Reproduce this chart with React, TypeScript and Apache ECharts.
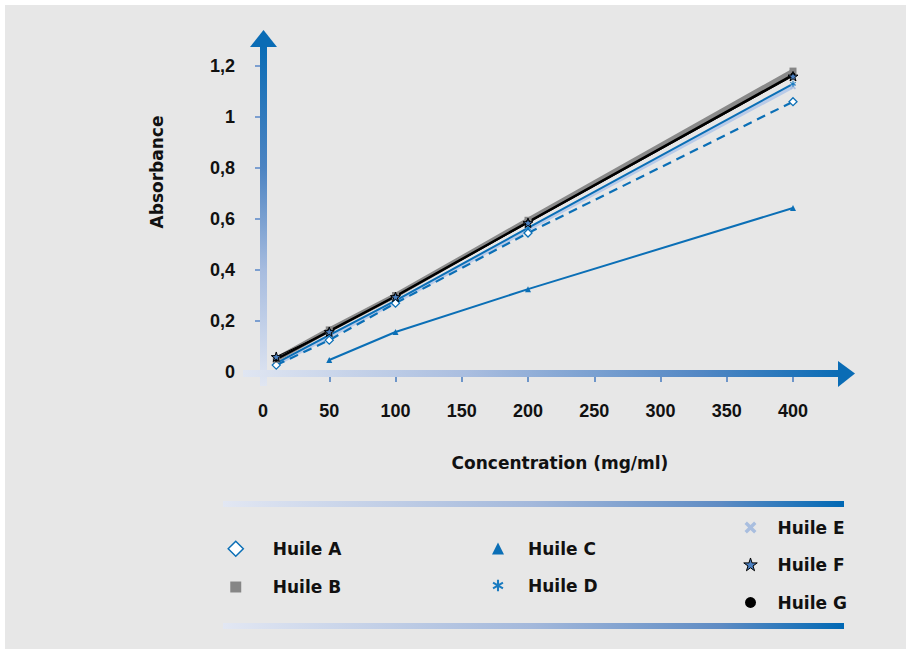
import { useEffect, useRef } from "react";
import * as echarts from "echarts";

// ---- data ----
const concentrations = [10, 50, 100, 200, 400];
const huileA = [0.027, 0.125, 0.27, 0.545, 1.06];
const huileB = [0.05, 0.165, 0.3, 0.595, 1.18];
const huileC = [null, 0.047, 0.157, 0.325, 0.643];
const huileD = [0.035, 0.145, 0.28, 0.565, 1.13];
const huileE = [0.03, 0.14, 0.275, 0.56, 1.12];
const huileF = [0.06, 0.158, 0.295, 0.585, 1.16];
const huileG = [0.05, 0.16, 0.297, 0.588, 1.165];
const seriesNames = ["Huile A", "Huile B", "Huile C", "Huile D", "Huile E", "Huile F", "Huile G"];
const xTitle = "Concentration (mg/ml)";
const yTitle = "Absorbance";

// ---- shapes (10x10 box) ----
const DIAMOND = "M5,0 L10,5 L5,10 L0,5 Z";
const SQUARE = "M0,0 L10,0 L10,10 L0,10 Z";
const TRIANGLE = "M5,0 L10,10 L0,10 Z";
const ASTER =
  "M4.1,0 L5.9,0 L5.9,10 L4.1,10 Z " +
  "M9.78,3.279 L1.12,8.279 L0.22,6.721 L8.88,1.721 Z " +
  "M8.88,8.279 L0.22,3.279 L1.12,1.721 L9.78,6.721 Z";
const CROSS = "M0,2 L2,0 L5,3 L8,0 L10,2 L7,5 L10,8 L8,10 L5,7 L2,10 L0,8 L3,5 Z";
const STAR =
  "M5,0 L6.1,3.5 L9.8,3.5 L6.8,5.7 L7.9,9.1 L5,7 L2.1,9.1 L3.2,5.7 L0.2,3.5 L3.9,3.5 Z";
const CIRCLE = "M0,5 A5,5 0 1 1 10,5 A5,5 0 1 1 0,5 Z";

const sym = (d: string) => "path://" + d;
const pad = (d: string, a: number) => `path://M${-a},${-a} ${d} M${10 + a},${10 + a}`;

const BLUE = "#0b6fb6";
const TEXT = "#111111";
const TITLE_FONT = '"DejaVu Sans", "Liberation Sans", sans-serif';
const TICK_FONT = '"Liberation Sans Narrow", "Liberation Sans", Arial, sans-serif';

const pairs = (vals: (number | null)[]) =>
  concentrations
    .map((x, i) => [x, vals[i]] as [number, number | null])
    .filter((p) => p[1] !== null);

const barGradient = () =>
  new echarts.graphic.LinearGradient(0, 0, 1, 0, [
    { offset: 0, color: "#e2e7f3" },
    { offset: 0.5, color: "#a3b8db" },
    { offset: 0.8, color: "#5f8cc4" },
    { offset: 1, color: "#0068b4" },
  ]);

export default function App() {
  const ref = useRef<HTMLDivElement>(null);

  useEffect(() => {
    if (!ref.current) return;
    const chart = echarts.init(ref.current, null, { renderer: "svg" });

    const legendText = (padLeft: number) => ({
      fontFamily: TITLE_FONT,
      fontWeight: "bold" as const,
      fontSize: 17,
      color: TEXT,
      lineHeight: 16,
      padding: [0, 0, 0, padLeft],
    });

    const option: any = {
      animation: false,
      backgroundColor: "transparent",
      grid: {
        left: 263,
        top: 66,
        width: 530,
        height: 306,
        containLabel: false,
        outerBoundsMode: "none",
      },
      xAxis: {
        type: "value",
        min: 0,
        max: 400,
        interval: 50,
        axisLine: { show: false },
        splitLine: { show: false },
        axisTick: { show: true, length: 10, lineStyle: { color: "#6d95c9", width: 2 } },
        axisLabel: {
          margin: 30,
          fontFamily: TICK_FONT,
          fontWeight: "bold",
          fontSize: 18,
          color: TEXT,
        },
      },
      yAxis: {
        type: "value",
        min: 0,
        max: 1.2,
        interval: 0.2,
        axisLine: { show: false },
        splitLine: { show: false },
        axisTick: { show: true, length: 8, lineStyle: { color: "#7c9fd0", width: 2 } },
        axisLabel: {
          margin: 28,
          fontFamily: TICK_FONT,
          fontWeight: "bold",
          fontSize: 18,
          color: TEXT,
          formatter: (v: number) => String(Math.round(v * 10) / 10).replace(".", ","),
        },
      },
      legend: [
        {
          orient: "vertical",
          left: 227,
          top: 540,
          padding: 0,
          itemWidth: 16,
          itemHeight: 16,
          itemGap: 21,
          selectedMode: false,
          textStyle: legendText(24),
          data: [
            {
              name: seriesNames[0],
              icon: pad(DIAMOND, 0.3),
              itemStyle: { color: "#ffffff", borderColor: BLUE, borderWidth: 1.5 },
            },
            {
              name: seriesNames[1],
              icon: pad(SQUARE, 2.3),
              itemStyle: { color: "#868686", borderWidth: 0 },
            },
          ],
        },
        {
          orient: "vertical",
          left: 490,
          top: 540,
          padding: 0,
          itemWidth: 16,
          itemHeight: 16,
          itemGap: 20,
          selectedMode: false,
          textStyle: legendText(17),
          data: [
            {
              name: seriesNames[2],
              icon: pad(TRIANGLE, 1.7),
              itemStyle: { color: BLUE, borderWidth: 0 },
            },
            {
              name: seriesNames[3],
              icon: pad(ASTER, 2.0),
              itemStyle: { color: "#1a7bc0", borderWidth: 0 },
            },
          ],
        },
        {
          orient: "vertical",
          left: 742,
          top: 519,
          padding: 0,
          itemWidth: 16,
          itemHeight: 16,
          itemGap: 20.5,
          selectedMode: false,
          textStyle: legendText(14),
          data: [
            {
              name: seriesNames[4],
              icon: pad(CROSS, 1.7),
              itemStyle: { color: "#a9bedf", borderWidth: 0 },
            },
            {
              name: seriesNames[5],
              icon: pad(STAR, 0.7),
              itemStyle: { color: "#4a7fc0", borderColor: "#000000", borderWidth: 1 },
            },
            {
              name: seriesNames[6],
              icon: pad(CIRCLE, 2.3),
              itemStyle: { color: "#000000", borderWidth: 0 },
            },
          ],
        },
      ],
      graphic: [
        // y axis arrow line
        {
          type: "rect",
          z: 1,
          shape: { x: 260, y: 46, width: 7, height: 340 },
          style: {
            fill: new echarts.graphic.LinearGradient(0, 0, 0, 1, [
              { offset: 0, color: "#0a6cb5" },
              { offset: 0.36, color: "#4d84c2" },
              { offset: 0.66, color: "#a7bcdf" },
              { offset: 1, color: "#e0e6f2" },
            ]),
          },
        },
        {
          type: "polygon",
          z: 1,
          shape: { points: [[250, 47], [277, 47], [263.5, 30]] },
          style: { fill: "#0a6cb5" },
        },
        // x axis arrow line
        {
          type: "rect",
          z: 1,
          shape: { x: 243, y: 370, width: 596, height: 7 },
          style: {
            fill: new echarts.graphic.LinearGradient(0, 0, 1, 0, [
              { offset: 0, color: "#e0e6f2" },
              { offset: 0.38, color: "#a9bddf" },
              { offset: 0.77, color: "#5287c4" },
              { offset: 1, color: "#0a6cb5" },
            ]),
          },
        },
        {
          type: "polygon",
          z: 1,
          shape: { points: [[838, 361], [838, 387], [855, 373.5]] },
          style: { fill: "#0a6cb5" },
        },
        // legend separator bars
        {
          type: "rect",
          z: 1,
          shape: { x: 223, y: 501, width: 621, height: 6 },
          style: { fill: barGradient() },
        },
        {
          type: "rect",
          z: 1,
          shape: { x: 223, y: 623, width: 621, height: 6 },
          style: { fill: barGradient() },
        },
        // axis titles
        {
          type: "text",
          z: 1,
          x: 157,
          y: 172,
          rotation: Math.PI / 2,
          style: {
            text: yTitle,
            fontFamily: TITLE_FONT,
            fontWeight: "bold",
            fontSize: 17,
            fill: TEXT,
            align: "center",
            verticalAlign: "middle",
          },
        },
        {
          type: "text",
          z: 1,
          x: 560,
          y: 463,
          style: {
            text: xTitle,
            fontFamily: TITLE_FONT,
            fontWeight: "bold",
            fontSize: 17,
            fill: TEXT,
            align: "center",
            verticalAlign: "middle",
          },
        },
      ],
      series: [
        {
          name: seriesNames[4],
          type: "line",
          data: pairs(huileE),
          symbol: sym(CROSS),
          symbolSize: 6,
          itemStyle: { color: "#a9bedf" },
          lineStyle: { color: "#b9cbe8", width: 4 },
          emphasis: { disabled: true },
        },
        {
          name: seriesNames[3],
          type: "line",
          data: pairs(huileD),
          symbol: sym(ASTER),
          symbolSize: 6,
          itemStyle: { color: "#1a7bc0" },
          lineStyle: { color: BLUE, width: 2 },
          emphasis: { disabled: true },
        },
        {
          name: seriesNames[2],
          type: "line",
          data: pairs(huileC),
          symbol: "triangle",
          symbolSize: 6,
          itemStyle: { color: BLUE },
          lineStyle: { color: BLUE, width: 2 },
          emphasis: { disabled: true },
        },
        {
          name: seriesNames[0],
          type: "line",
          data: pairs(huileA),
          symbol: "diamond",
          symbolSize: 8,
          itemStyle: { color: "#ffffff", borderColor: BLUE, borderWidth: 1.3 },
          lineStyle: { color: BLUE, width: 2.2, type: [9, 6] },
          emphasis: { disabled: true },
          z: 3,
        },
        {
          name: seriesNames[1],
          type: "line",
          data: pairs(huileB),
          symbol: "rect",
          symbolSize: 7,
          itemStyle: { color: "#868686" },
          lineStyle: { color: "#8a8a8a", width: 5 },
          emphasis: { disabled: true },
          z: 3,
        },
        {
          name: seriesNames[6],
          type: "line",
          data: pairs(huileG),
          symbol: "circle",
          symbolSize: 5,
          itemStyle: { color: "#000000" },
          lineStyle: { color: "#000000", width: 2.5 },
          emphasis: { disabled: true },
          z: 3,
        },
        {
          name: seriesNames[5],
          type: "line",
          data: pairs(huileF),
          symbol: sym(STAR),
          symbolSize: 10,
          symbolKeepAspect: true,
          itemStyle: { color: "#4a7fc0", borderColor: "#000000", borderWidth: 1 },
          lineStyle: { color: "#000000", width: 1 },
          emphasis: { disabled: true },
          z: 3,
        },
      ],
    };

    chart.setOption(option);
    return () => chart.dispose();
  }, []);

  return (
    <div
      style={{
        position: "fixed",
        left: 0,
        top: 0,
        width: 906,
        height: 649,
        background: "#ffffff",
        overflow: "hidden",
      }}
    >
      <div
        style={{
          position: "absolute",
          left: 5,
          top: 5,
          right: 0,
          bottom: 0,
          background: "#e7e7e7",
        }}
      />
      <div
        ref={ref}
        style={{ position: "absolute", left: 0, top: 0, width: 906, height: 649 }}
      />
    </div>
  );
}
